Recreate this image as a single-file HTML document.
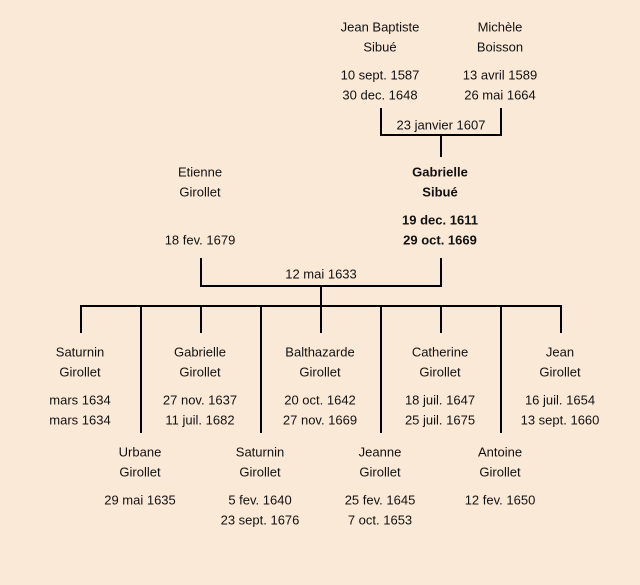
<!DOCTYPE html>
<html><head><meta charset="utf-8"><style>
html,body{margin:0;padding:0;background:#fbe9d7;}
svg{display:block}
text{font-family:"Liberation Sans",sans-serif;font-size:13px;fill:#111;text-anchor:middle;dominant-baseline:central}
.b{font-weight:bold}
</style></head><body>
<svg width="640" height="585" viewBox="0 0 640 585">
<rect width="640" height="585" fill="#fbe9d7"/>
<g stroke="#000" stroke-width="2" fill="none">
<path d="M381 108V135H501V108M441 135V157"/>
<path d="M201 258V286H441V258M321 286V306"/>
<path d="M80 306H562"/>
<path d="M81 306V333M201 306V333M321 306V333M441 306V333M561 306V333"/>
<path d="M141 306V433M261 306V433M381 306V433M501 306V433"/>
</g>
<text x="380" y="27">Jean Baptiste</text><text x="380" y="47">Sibué</text>
<text x="380" y="75">10 sept. 1587</text><text x="380" y="95">30 dec. 1648</text>
<text x="500" y="27">Michèle</text><text x="500" y="47">Boisson</text>
<text x="500" y="75">13 avril 1589</text><text x="500" y="95">26 mai 1664</text>
<text x="441" y="125">23 janvier 1607</text>
<text x="200" y="172">Etienne</text><text x="200" y="192">Girollet</text>
<text x="200" y="240">18 fev. 1679</text>
<text class="b" x="440" y="172">Gabrielle</text><text class="b" x="440" y="192">Sibué</text>
<text class="b" x="440" y="220">19 dec. 1611</text><text class="b" x="440" y="240">29 oct. 1669</text>
<text x="321" y="274">12 mai 1633</text>
<text x="80" y="352">Saturnin</text><text x="80" y="372">Girollet</text><text x="80" y="400">mars 1634</text><text x="80" y="420">mars 1634</text>
<text x="200" y="352">Gabrielle</text><text x="200" y="372">Girollet</text><text x="200" y="400">27 nov. 1637</text><text x="200" y="420">11 juil. 1682</text>
<text x="320" y="352">Balthazarde</text><text x="320" y="372">Girollet</text><text x="320" y="400">20 oct. 1642</text><text x="320" y="420">27 nov. 1669</text>
<text x="440" y="352">Catherine</text><text x="440" y="372">Girollet</text><text x="440" y="400">18 juil. 1647</text><text x="440" y="420">25 juil. 1675</text>
<text x="560" y="352">Jean</text><text x="560" y="372">Girollet</text><text x="560" y="400">16 juil. 1654</text><text x="560" y="420">13 sept. 1660</text>
<text x="140" y="452">Urbane</text><text x="140" y="472">Girollet</text><text x="140" y="500">29 mai 1635</text>
<text x="260" y="452">Saturnin</text><text x="260" y="472">Girollet</text><text x="260" y="500">5 fev. 1640</text><text x="260" y="520">23 sept. 1676</text>
<text x="380" y="452">Jeanne</text><text x="380" y="472">Girollet</text><text x="380" y="500">25 fev. 1645</text><text x="380" y="520">7 oct. 1653</text>
<text x="500" y="452">Antoine</text><text x="500" y="472">Girollet</text><text x="500" y="500">12 fev. 1650</text>
</svg>
</body></html>
